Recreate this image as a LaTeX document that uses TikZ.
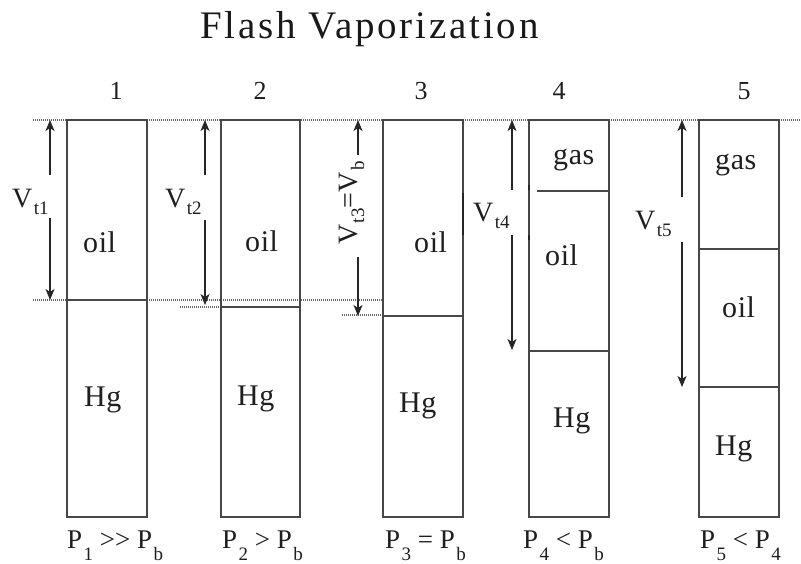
\documentclass[tikz,border=0pt]{standalone}
\usepackage{fontspec}
\setmainfont{Liberation Serif}
\usetikzlibrary{arrows.meta}
\newcommand{\lsub}[2][7pt]{\hspace{1.5pt}\raisebox{-#1}{\fontsize{19}{19}\selectfont #2}}
\begin{document}
\begin{tikzpicture}[x=1pt,y=-1pt,
  tube/.style={draw=black!72, line width=1.1pt},
  lvl/.style={draw=black!72, line width=1.1pt},
  markseg/.style={draw=black!85, line width=2pt},
  guide/.style={draw=black!60, line width=1.1pt, dash pattern=on 1pt off 1pt},
  vol/.style={draw=black!85, line width=1.1pt, -{Stealth[length=11pt,width=9pt,inset=3pt]}},
  fluid/.style={font=\fontsize{30}{30}\selectfont\addfontfeatures{LetterSpace=2}, text=black!88, inner sep=0pt, anchor=base west},
  vlab/.style={font=\fontsize{28}{28}\selectfont, text=black!88, inner sep=0pt, anchor=base west},
  plab/.style={font=\fontsize{27}{27}\selectfont, text=black!88, inner sep=0pt, anchor=base west},
  num/.style={font=\fontsize{26}{26}\selectfont, text=black!88, inner sep=0pt, anchor=base},
  ttl/.style={font=\fontsize{39}{39}\selectfont\addfontfeatures{LetterSpace=7.2}, text=black!90, inner sep=0pt, anchor=base west}]
\useasboundingbox[fill=white] (0,0) rectangle (801,564);

% title and numbers
\node[ttl] (title) at (200,39) {Flash Vaporization};
\node[num] (n1) at (116,100) {1};
\node[num] (n2) at (260,100) {2};
\node[num] (n3) at (421,100) {3};
\node[num] (n4) at (559,100) {4};
\node[num] (n5) at (744,100) {5};

% guide lines
\draw[guide] (33,120) -- (801,120);
\draw[guide] (33,300) -- (383,300);
\draw[guide] (180,307) -- (221,307);
\draw[guide] (342,315) -- (383,315);

% tubes
\draw[tube] (67,120) rectangle (147,517);
\draw[tube] (221,120) rectangle (300,517);
\draw[tube] (383,120) rectangle (463,517);
\draw[tube] (529,120) rectangle (609,517);
\draw[tube] (699,120) rectangle (779,517);

% levels
\draw[lvl] (67,300) -- (147,300);
\draw[lvl] (221,307) -- (300,307);
\draw[lvl] (383,316) -- (463,316);
\draw[lvl] (537,191) -- (609,191);
\draw[lvl] (529,351) -- (609,351);
\draw[lvl] (699,249) -- (779,249);
\draw[lvl] (699,387) -- (779,387);

% small marks
\draw[markseg] (463,193) -- (463,235);
\draw[markseg] (529,185) -- (529,190);
\draw[markseg] (529,235) -- (529,240);

% fluid labels
\node[fluid] (oil1) at (83,253) {oil};
\node[fluid] (hg1) at (84,406) {Hg};
\node[fluid] (oil2) at (245,252) {oil};
\node[fluid] (hg2) at (237,405) {Hg};
\node[fluid] (oil3) at (414,253) {oil};
\node[fluid] (hg3) at (399,412) {Hg};
\node[fluid] (gas4) at (553,165) {gas};
\node[fluid] (oil4) at (545,266) {oil};
\node[fluid] (hg4) at (553,427) {Hg};
\node[fluid] (gas5) at (715,170) {gas};
\node[fluid] (oil5) at (722,317) {oil};
\node[fluid] (hg5) at (715,455) {Hg};

% volume arrows
\draw[vol] (50,175) -- (50,120);
\draw[vol] (50,218) -- (50,300);
\node[vlab] (v1) at (12,208) {V\lsub{t1}};

\draw[vol] (205,175) -- (205,120);
\draw[vol] (205,220) -- (205,305);
\node[vlab] (v2) at (165,208) {V\lsub{t2}};

\draw[vol] (358,155) -- (358,120);
\draw[vol] (358,257) -- (358,316);
\node[vlab, rotate=90] (v3) at (357,245) {V\lsub{t3}=V\lsub{b}};

\draw[vol] (512,190) -- (512,120);
\draw[vol] (512,235) -- (512,350);
\node[vlab] (v4) at (473,222) {V\lsub{t4}};

\draw[vol] (682,197) -- (682,120);
\draw[vol] (682,242) -- (682,387);
\node[vlab] (v5) at (635,230) {V\lsub{t5}};

% pressure labels
\node[plab] (p1) at (67,548) {P\lsub[12pt]{1} {>}{>} P\lsub[12pt]{b}};
\node[plab] (p2) at (222,548) {P\lsub[12pt]{2} > P\lsub[12pt]{b}};
\node[plab] (p3) at (385,548) {P\lsub[12pt]{3} = P\lsub[12pt]{b}};
\node[plab] (p4) at (523,548) {P\lsub[12pt]{4} < P\lsub[12pt]{b}};
\node[plab] (p5) at (700,548) {P\lsub[12pt]{5} < P\lsub[12pt]{4}};
\end{tikzpicture}
\end{document}
